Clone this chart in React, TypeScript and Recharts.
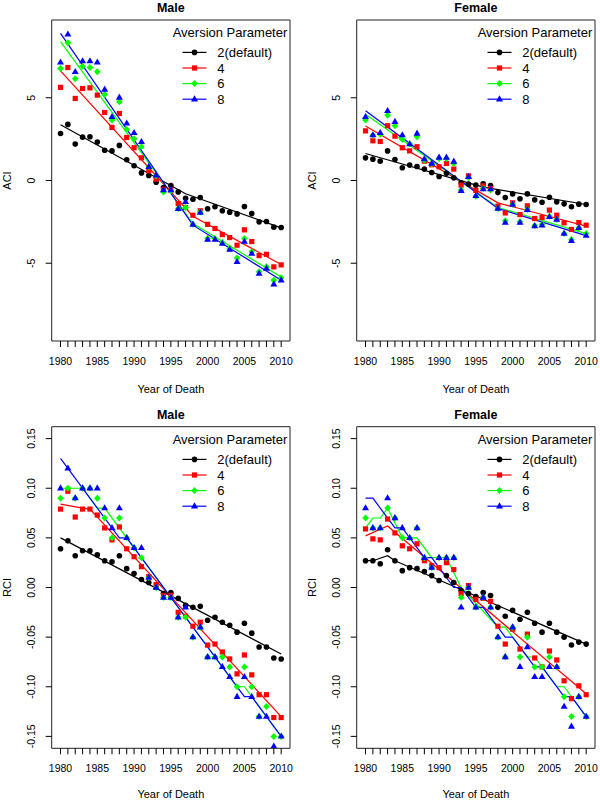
import React from 'react';
import { ComposedChart, Scatter, Line, XAxis, YAxis, ReferenceArea, Legend } from 'recharts';

// ---------- categories / ticks ----------
const YEARS = [1980, 1981, 1982, 1983, 1984, 1985, 1986, 1987, 1988, 1989, 1990, 1991, 1992, 1993, 1994, 1995, 1996, 1997, 1998, 1999, 2000, 2001, 2002, 2003, 2004, 2005, 2006, 2007, 2008, 2009, 2010];
const X_TICK_LABELS = [1980, 1985, 1990, 1995, 2000, 2005, 2010];
const X_DOMAIN = [1978.8, 2011.2];
const ACI_TICKS = [-5, 0, 5];
const ACI_DOMAIN = [-9.7, 9.7];
const RCI_TICKS = [-0.15, -0.1, -0.05, 0, 0.05, 0.1, 0.15];
const RCI_DOMAIN = [-0.162, 0.162];

const SERIES_NAMES = ['2(default)', '4', '6', '8'];
const SERIES_COLORS = ['#000000', '#FF0000', '#00FF00', '#0000FF'];
const SERIES_SHAPES = ['circle', 'square', 'diamond', 'triangle'];

// ---------- Male ACI ----------
const M_ACI_2 = [2.84, 3.39, 2.20, 2.62, 2.64, 2.32, 1.83, 1.79, 2.12, 1.25, 0.89, 0.46, 0.30, -0.10, -0.42, -0.30, -0.69, -1.07, -1.13, -1.03, -1.71, -1.59, -1.83, -1.92, -2.02, -1.57, -2.00, -2.50, -2.48, -2.82, -2.84];
const M_ACI_4 = [5.63, 6.83, 4.96, 5.56, 5.60, 5.16, 4.11, 3.21, 4.05, 2.60, 1.98, 1.37, 0.58, 0.08, -0.54, -0.58, -1.39, -1.63, -2.10, -1.83, -2.65, -2.90, -3.27, -3.45, -3.91, -2.98, -3.69, -4.54, -4.46, -5.22, -5.10];
const M_ACI_6 = [6.77, 8.33, 6.15, 6.90, 6.83, 6.57, 5.20, 3.65, 4.76, 3.08, 2.52, 2.04, 0.83, 0.28, -0.69, -0.62, -1.69, -1.63, -2.64, -1.90, -3.51, -3.51, -3.75, -4.11, -4.68, -3.51, -4.31, -5.52, -5.22, -6.03, -5.87];
const M_ACI_8 = [7.14, 8.83, 6.57, 7.22, 7.22, 7.14, 5.50, 3.85, 5.02, 3.45, 2.88, 2.34, 0.83, 0.32, -0.58, -0.58, -1.71, -1.29, -2.66, -1.94, -3.57, -3.57, -3.81, -4.17, -4.92, -3.69, -4.42, -5.63, -5.32, -6.27, -6.03];
const M_ACI_FIT_2_X = [1980, 1997, 2010];
const M_ACI_FIT_2_Y = [3.37, -0.80, -2.86];
const M_ACI_FIT_4_X = [1980, 1998, 2010];
const M_ACI_FIT_4_Y = [6.63, -2.16, -5.08];
const M_ACI_FIT_6_X = [1980, 1998, 2010];
const M_ACI_FIT_6_Y = [8.39, -2.60, -5.83];
const M_ACI_FIT_8_X = [1980, 1998, 2010];
const M_ACI_FIT_8_Y = [8.89, -2.70, -6.03];

// ---------- Female ACI ----------
const F_ACI_2 = [1.37, 1.29, 1.17, 1.79, 1.27, 0.77, 0.93, 0.85, 0.69, 0.48, 0.24, 0.44, 0.16, -0.14, -0.22, -0.28, -0.20, -0.30, -0.73, -1.03, -0.81, -1.11, -0.81, -1.17, -1.31, -1.01, -1.29, -1.41, -1.59, -1.43, -1.45];
const F_ACI_4 = [3.00, 2.40, 2.36, 3.31, 2.68, 1.98, 1.79, 2.04, 1.17, 0.95, 0.83, 1.03, 0.69, -0.28, 0.28, -0.60, -0.32, -0.48, -1.55, -1.96, -1.35, -2.06, -1.53, -2.30, -2.24, -1.79, -2.10, -2.56, -2.96, -2.54, -2.70];
const F_ACI_6 = [3.65, 2.74, 2.78, 3.95, 3.31, 2.50, 2.20, 2.64, 1.23, 0.99, 1.33, 1.33, 1.03, -0.58, 0.18, -0.95, -0.48, -0.58, -1.69, -2.44, -1.43, -2.50, -1.75, -2.72, -2.64, -2.16, -2.36, -3.21, -3.57, -2.86, -3.21];
const F_ACI_8 = [3.85, 2.74, 2.88, 4.21, 3.55, 2.74, 2.20, 2.84, 1.29, 1.03, 1.39, 1.39, 1.15, -0.62, 0.22, -0.93, -0.52, -0.52, -1.69, -2.54, -1.45, -2.54, -1.77, -2.76, -2.70, -2.20, -2.36, -3.21, -3.65, -2.86, -3.33];
const F_ACI_FIT_2_X = [1980, 1996, 2010];
const F_ACI_FIT_2_Y = [1.63, -0.40, -1.45];
const F_ACI_FIT_4_X = [1980, 1998, 2010];
const F_ACI_FIT_4_Y = [3.29, -1.35, -2.76];
const F_ACI_FIT_6_X = [1980, 1998, 2010];
const F_ACI_FIT_6_Y = [4.01, -1.63, -3.21];
const F_ACI_FIT_8_X = [1980, 1998, 2010];
const F_ACI_FIT_8_Y = [4.21, -1.69, -3.33];

// ---------- Male RCI ----------
const M_RCI_2 = [0.039, 0.047, 0.032, 0.037, 0.037, 0.033, 0.027, 0.026, 0.032, 0.019, 0.014, 0.008, 0.005, 0.000, -0.006, -0.005, -0.011, -0.018, -0.020, -0.019, -0.033, -0.030, -0.035, -0.038, -0.045, -0.036, -0.046, -0.060, -0.060, -0.071, -0.072];
const M_RCI_4 = [0.079, 0.097, 0.071, 0.079, 0.079, 0.073, 0.060, 0.048, 0.061, 0.039, 0.031, 0.021, 0.011, 0.003, -0.008, -0.008, -0.025, -0.029, -0.039, -0.035, -0.058, -0.057, -0.065, -0.072, -0.087, -0.068, -0.088, -0.108, -0.108, -0.131, -0.131];
const M_RCI_6 = [0.09, 0.10, 0.09, 0.10, 0.10, 0.09, 0.07, 0.05, 0.07, 0.05, 0.04, 0.03, 0.01, 0.00, -0.01, -0.01, -0.03, -0.03, -0.05, -0.04, -0.07, -0.07, -0.07, -0.08, -0.10, -0.08, -0.10, -0.13, -0.12, -0.15, -0.15];
const M_RCI_8 = [0.10, 0.12, 0.09, 0.10, 0.10, 0.10, 0.08, 0.06, 0.08, 0.05, 0.04, 0.04, 0.01, 0.00, -0.01, -0.01, -0.03, -0.02, -0.05, -0.04, -0.07, -0.07, -0.08, -0.09, -0.11, -0.09, -0.11, -0.13, -0.13, -0.16, -0.15];
const M_RCI_FIT_2_X = [1980, 2010];
const M_RCI_FIT_2_Y = [0.050, -0.067];
const M_RCI_FIT_4_X = [1980, 1983, 1984, 2010];
const M_RCI_FIT_4_Y = [0.084, 0.080, 0.079, -0.130];
const M_RCI_FIT_6_X = [1980, 1983, 1985, 1986, 1989, 2004, 2005, 2010];
const M_RCI_FIT_6_Y = [0.10, 0.10, 0.08, 0.08, 0.05, -0.10, -0.10, -0.15];
const M_RCI_FIT_8_X = [1980, 1988, 1989, 2005, 2006, 2010];
const M_RCI_FIT_8_Y = [0.13, 0.05, 0.05, -0.11, -0.11, -0.15];

// ---------- Female RCI ----------
const F_RCI_2 = [0.027, 0.027, 0.024, 0.038, 0.027, 0.017, 0.020, 0.019, 0.016, 0.012, 0.007, 0.012, 0.005, -0.003, -0.006, -0.009, -0.005, -0.008, -0.020, -0.029, -0.023, -0.032, -0.025, -0.036, -0.045, -0.036, -0.045, -0.050, -0.058, -0.055, -0.057];
const F_RCI_4 = [0.059, 0.049, 0.048, 0.069, 0.055, 0.042, 0.039, 0.044, 0.027, 0.022, 0.020, 0.025, 0.018, -0.006, 0.002, -0.012, -0.011, -0.014, -0.039, -0.057, -0.042, -0.062, -0.047, -0.071, -0.080, -0.064, -0.073, -0.094, -0.112, -0.099, -0.108];
const F_RCI_6 = [0.07, 0.06, 0.06, 0.08, 0.07, 0.05, 0.05, 0.06, 0.03, 0.02, 0.03, 0.03, 0.03, -0.01, 0.00, -0.02, -0.01, -0.02, -0.05, -0.07, -0.04, -0.07, -0.05, -0.08, -0.08, -0.07, -0.08, -0.11, -0.13, -0.11, -0.13];
const F_RCI_8 = [0.08, 0.06, 0.06, 0.09, 0.07, 0.06, 0.05, 0.06, 0.03, 0.02, 0.03, 0.03, 0.03, -0.02, 0.00, -0.02, -0.01, -0.02, -0.05, -0.07, -0.04, -0.08, -0.06, -0.09, -0.09, -0.08, -0.08, -0.12, -0.14, -0.11, -0.13];
const F_RCI_FIT_2_X = [1980, 1981, 1983, 1984, 2010];
const F_RCI_FIT_2_Y = [0.027, 0.027, 0.032, 0.027, -0.057];
const F_RCI_FIT_4_X = [1980, 1983, 2010];
const F_RCI_FIT_4_Y = [0.052, 0.062, -0.107];
const F_RCI_FIT_6_X = [1980, 1981, 1982, 1983, 1985, 1987, 1989, 1991, 1993, 1998, 1999, 2002, 2003, 2006, 2007, 2010];
const F_RCI_FIT_6_Y = [0.06, 0.07, 0.07, 0.08, 0.05, 0.05, 0.03, 0.03, 0.00, -0.04, -0.04, -0.07, -0.07, -0.10, -0.10, -0.13];
const F_RCI_FIT_8_X = [1980, 1981, 1984, 1985, 1988, 1989, 1992, 1993, 1995, 1996, 1999, 2000, 2003, 2004, 2007, 2008, 2010];
const F_RCI_FIT_8_Y = [0.09, 0.09, 0.06, 0.06, 0.03, 0.03, 0.00, 0.00, -0.02, -0.02, -0.05, -0.05, -0.08, -0.08, -0.11, -0.11, -0.13];

// ---------- helpers ----------
const FONT = '"Liberation Sans", Arial, Helvetica, sans-serif';

const toPoints = (vals: number[]) => YEARS.map((year, i) => ({ year, v: vals[i] }));
const toLine = (xs: number[], ys: number[]) => xs.map((year, i) => ({ year, v: ys[i] }));

function Marker({ shape, cx, cy, color }: { shape: string; cx: number; cy: number; color: string }) {
  if (cx == null || cy == null) return null;
  switch (shape) {
    case 'circle':
      return <circle cx={cx} cy={cy} r={2.8} fill={color} />;
    case 'square':
      return <rect x={cx - 2.6} y={cy - 2.6} width={5.2} height={5.2} fill={color} />;
    case 'diamond':
      return <polygon points={`${cx},${cy - 3.5} ${cx + 3.3},${cy} ${cx},${cy + 3.5} ${cx - 3.3},${cy}`} fill={color} />;
    default:
      return <polygon points={`${cx},${cy - 3.9} ${cx + 3.5},${cy + 2.2} ${cx - 3.5},${cy + 2.2}`} fill={color} />;
  }
}

const XTick = (props: any) => {
  const { x, y, payload } = props;
  if (!X_TICK_LABELS.includes(payload.value)) return <g />;
  return (
    <text x={x} y={y + 10} textAnchor="middle" fontSize={10.5} fontFamily={FONT} fill="#000">
      {payload.value}
    </text>
  );
};

const YTick = (props: any) => {
  const { x, y, payload, digits } = props;
  return (
    <text x={x} y={y} transform={`rotate(-90 ${x} ${y})`} textAnchor="middle" fontSize={10.5} fontFamily={FONT} fill="#000">
      {Number(payload.value).toFixed(digits)}
    </text>
  );
};

const LegendBox = () => (
  <svg width={130} height={90} style={{ display: 'block', overflow: 'visible' }}>
    <text x={125.3} y={17} textAnchor="end" fontSize={13} fontFamily={FONT} fill="#000">
      Aversion Parameter
    </text>
    {SERIES_NAMES.map((name, i) => {
      const cy = 32.4 + i * 15.6;
      return (
        <g key={name}>
          <line x1={20.5} x2={44.5} y1={cy} y2={cy} stroke={SERIES_COLORS[i]} strokeWidth={1.2} />
          <Marker shape={SERIES_SHAPES[i]} cx={32.5} cy={cy} color={SERIES_COLORS[i]} />
          <text x={55.2} y={cy + 4.7} fontSize={13} fontFamily={FONT} fill="#000">
            {name}
          </text>
        </g>
      );
    })}
  </svg>
);

type PanelCfg = {
  title: string;
  yLabel: string;
  yDomain: number[];
  yTicks: number[];
  digits: number;
  series: number[][];
  fits: { x: number[]; y: number[] }[];
  top: number;
  right: number;
  yAxisWidth: number;
  xAxisHeight: number;
  xLabelOffset: number;
  yLabelOffset: number;
  left: number;
  pageTop: number;
};

const PLOT_W = 238.3;

function Panel({ cfg }: { cfg: PanelCfg }) {
  const plotRight = cfg.yAxisWidth + PLOT_W;
  return (
    <div style={{ position: 'absolute', left: cfg.left, top: cfg.pageTop, width: 300, height: 400 }}>
      <ComposedChart width={300} height={400} margin={{ top: cfg.top, right: cfg.right, bottom: 0, left: 0 }}>
        <XAxis
          type="number"
          dataKey="year"
          domain={X_DOMAIN}
          allowDataOverflow
          ticks={YEARS}
          interval={0}
          tick={<XTick />}
          tickSize={6}
          tickMargin={8}
          axisLine={false}
          tickLine={{ stroke: '#000' }}
          height={cfg.xAxisHeight}
          label={{ value: 'Year of Death', position: 'insideBottom', offset: cfg.xLabelOffset, fontSize: 11, fill: '#000', fontFamily: FONT }}
        />
        <YAxis
          type="number"
          dataKey="v"
          domain={cfg.yDomain}
          allowDataOverflow
          ticks={cfg.yTicks}
          interval={0}
          tick={<YTick digits={cfg.digits} />}
          tickSize={6}
          tickMargin={11}
          axisLine={false}
          tickLine={{ stroke: '#000' }}
          width={cfg.yAxisWidth}
          label={{ value: cfg.yLabel, angle: -90, position: 'insideLeft', offset: cfg.yLabelOffset, style: { textAnchor: 'middle' }, fontSize: 11, fill: '#000', fontFamily: FONT }}
        />
        <ReferenceArea
          x1={X_DOMAIN[0]}
          x2={X_DOMAIN[1]}
          y1={cfg.yDomain[0]}
          y2={cfg.yDomain[1]}
          fill="none"
          fillOpacity={0}
          stroke="#222"
          strokeWidth={1}
          label={{ value: cfg.title, position: 'top', offset: 8, fontSize: 12.5, fontWeight: 'bold', fill: '#000', fontFamily: FONT }}
        />
        {cfg.series.map((vals, i) => (
          <Scatter
            key={'s' + i}
            name={SERIES_NAMES[i]}
            data={toPoints(vals)}
            dataKey="v"
            fill={SERIES_COLORS[i]}
            isAnimationActive={false}
            shape={(p: any) => <Marker shape={SERIES_SHAPES[i]} cx={p.cx} cy={p.cy} color={SERIES_COLORS[i]} />}
          />
        ))}
        {cfg.fits.map((f, i) => (
          <Line
            key={'l' + i}
            name={SERIES_NAMES[i] + ' fit'}
            data={toLine(f.x, f.y)}
            dataKey="v"
            type="linear"
            stroke={SERIES_COLORS[i]}
            strokeWidth={1.2}
            dot={false}
            activeDot={false}
            isAnimationActive={false}
          />
        ))}
        <Legend
          layout="vertical"
          align="center"
          verticalAlign="middle"
          content={() => <LegendBox />}
          wrapperStyle={{ left: plotRight - 128, top: cfg.top, width: 130, height: 90 }}
        />
      </ComposedChart>
    </div>
  );
}

const PANELS: PanelCfg[] = [
  {
    title: 'Male', yLabel: 'ACI', yDomain: ACI_DOMAIN, yTicks: ACI_TICKS, digits: 0,
    series: [M_ACI_2, M_ACI_4, M_ACI_6, M_ACI_8],
    fits: [
      { x: M_ACI_FIT_2_X, y: M_ACI_FIT_2_Y },
      { x: M_ACI_FIT_4_X, y: M_ACI_FIT_4_Y },
      { x: M_ACI_FIT_6_X, y: M_ACI_FIT_6_Y },
      { x: M_ACI_FIT_8_X, y: M_ACI_FIT_8_Y },
    ],
    top: 20, right: 10, yAxisWidth: 51.7, xAxisHeight: 59, xLabelOffset: 7, yLabelOffset: 6.7, left: 0, pageTop: 0,
  },
  {
    title: 'Female', yLabel: 'ACI', yDomain: ACI_DOMAIN, yTicks: ACI_TICKS, digits: 0,
    series: [F_ACI_2, F_ACI_4, F_ACI_6, F_ACI_8],
    fits: [
      { x: F_ACI_FIT_2_X, y: F_ACI_FIT_2_Y },
      { x: F_ACI_FIT_4_X, y: F_ACI_FIT_4_Y },
      { x: F_ACI_FIT_6_X, y: F_ACI_FIT_6_Y },
      { x: F_ACI_FIT_8_X, y: F_ACI_FIT_8_Y },
    ],
    top: 20, right: 5, yAxisWidth: 56.7, xAxisHeight: 59, xLabelOffset: 7, yLabelOffset: 11.7, left: 300, pageTop: 0,
  },
  {
    title: 'Male', yLabel: 'RCI', yDomain: RCI_DOMAIN, yTicks: RCI_TICKS, digits: 2,
    series: [M_RCI_2, M_RCI_4, M_RCI_6, M_RCI_8],
    fits: [
      { x: M_RCI_FIT_2_X, y: M_RCI_FIT_2_Y },
      { x: M_RCI_FIT_4_X, y: M_RCI_FIT_4_Y },
      { x: M_RCI_FIT_6_X, y: M_RCI_FIT_6_Y },
      { x: M_RCI_FIT_8_X, y: M_RCI_FIT_8_Y },
    ],
    top: 26.7, right: 10, yAxisWidth: 51.7, xAxisHeight: 51.7, xLabelOffset: 2, yLabelOffset: 6.7, left: 0, pageTop: 400,
  },
  {
    title: 'Female', yLabel: 'RCI', yDomain: RCI_DOMAIN, yTicks: RCI_TICKS, digits: 2,
    series: [F_RCI_2, F_RCI_4, F_RCI_6, F_RCI_8],
    fits: [
      { x: F_RCI_FIT_2_X, y: F_RCI_FIT_2_Y },
      { x: F_RCI_FIT_4_X, y: F_RCI_FIT_4_Y },
      { x: F_RCI_FIT_6_X, y: F_RCI_FIT_6_Y },
      { x: F_RCI_FIT_8_X, y: F_RCI_FIT_8_Y },
    ],
    top: 26.7, right: 5, yAxisWidth: 56.7, xAxisHeight: 51.7, xLabelOffset: 2, yLabelOffset: 11.7, left: 300, pageTop: 400,
  },
];

export default function App() {
  return (
    <div style={{ position: 'absolute', left: 0, top: 0, width: 600, height: 800, background: '#fff', fontFamily: FONT }}>
      {PANELS.map((cfg, i) => (
        <Panel key={i} cfg={cfg} />
      ))}
    </div>
  );
}
